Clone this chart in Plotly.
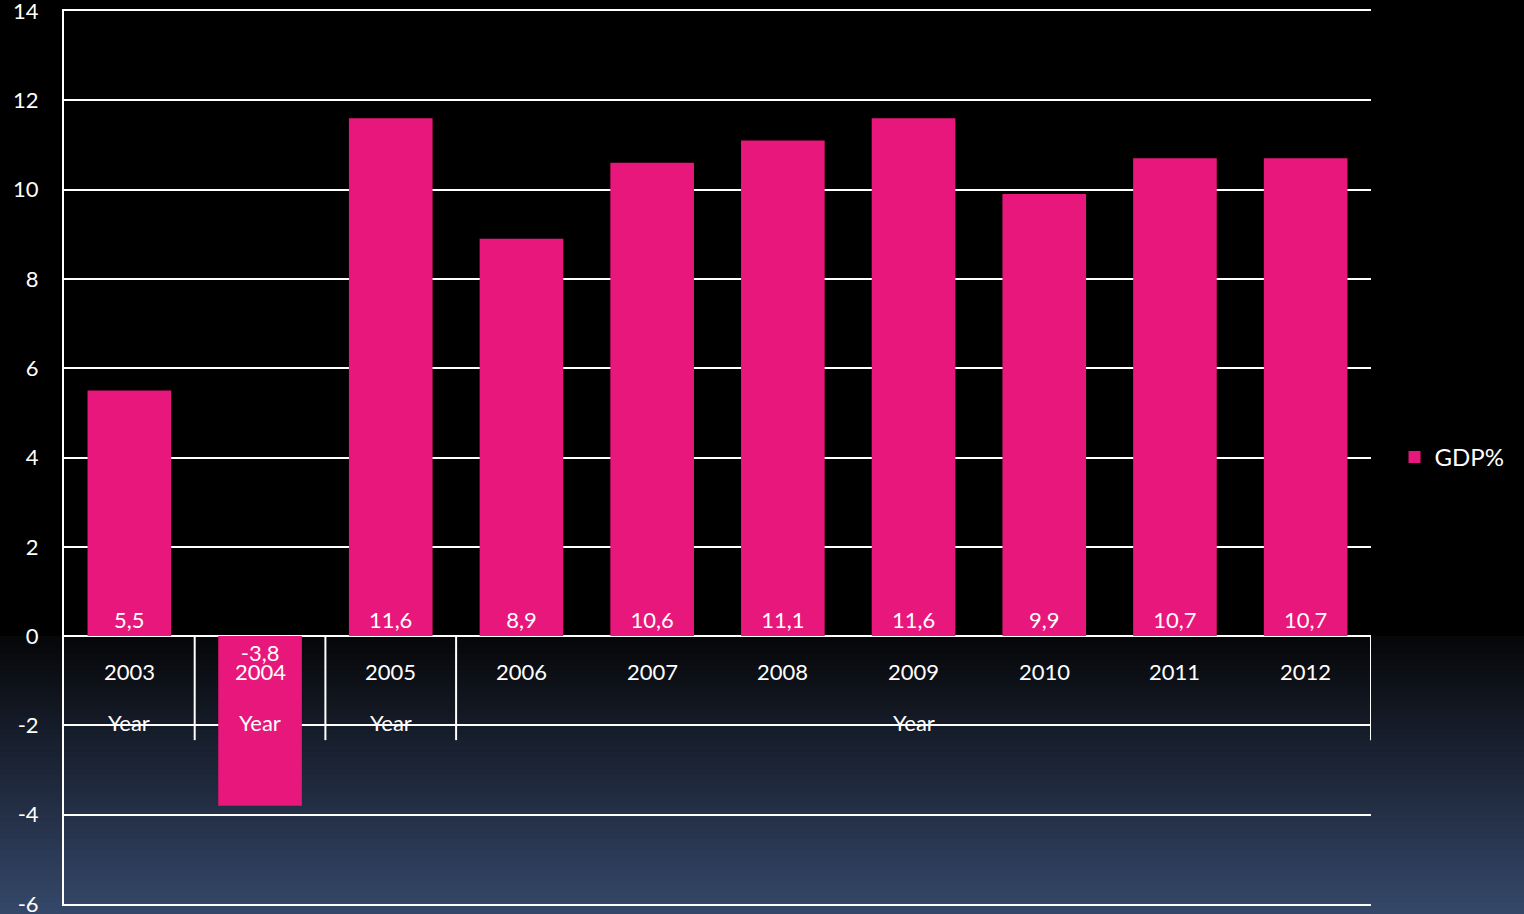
import plotly.graph_objects as go

years = ["2003", "2004", "2005", "2006", "2007", "2008", "2009", "2010", "2011", "2012"]
gdp = [5.5, -3.8, 11.6, 8.9, 10.6, 11.1, 11.6, 9.9, 10.7, 10.7]
group_labels = ["Year", "Year", "Year", "Year"]
group_sizes = [1, 1, 1, 7]
y_ticks = [-6, -4, -2, 0, 2, 4, 6, 8, 10, 12, 14]
y_tick_labels = ["-6", "-4", "-2", "0", "2", "4", "6", "8", "10", "12", "14"]

FONT = "Lato"
PINK = "#E8177B"

W, H = 1524, 914
ML, MR, MT, MB = 64, 153, 11, 10
pw = W - ML - MR
ph = H - MT - MB

fig = go.Figure()
fig.add_trace(go.Bar(
    x=years, y=gdp, name="GDP%",
    marker=dict(color=PINK, line=dict(width=0)),
    text=[f"{v:.1f}".replace(".", ",") for v in gdp],
    textposition="inside", insidetextanchor="start", textangle=0,
    textfont=dict(color="white", size=22, family=FONT),
    constraintext="none",
))

shapes = []
# background gradient (black above zero line, fading to slate blue at bottom)
top_px, bot_px = 636, H
n = 48
c0 = (5, 6, 8)
c1 = (54, 72, 106)
for i in range(n):
    p0 = top_px + (bot_px - top_px) * i / n
    p1 = top_px + (bot_px - top_px) * (i + 1) / n + 1
    t = (i + 0.5) / n
    col = tuple(int(round(c0[k] + (c1[k] - c0[k]) * t)) for k in range(3))
    shapes.append(dict(
        type="rect", xref="paper", yref="paper", layer="below",
        x0=-ML / pw, x1=(W - ML) / pw,
        y0=(H - MB - p1) / ph, y1=(H - MB - p0) / ph,
        fillcolor="rgb(%d,%d,%d)" % col, line=dict(width=0),
    ))

# group dividers of the category table
bounds = [-0.5]
for s in group_sizes:
    bounds.append(bounds[-1] + s)
for b in bounds[1:]:
    shapes.append(dict(type="line", xref="x", yref="y", x0=b, x1=b, y0=0, y1=-2.33,
                       line=dict(color="white", width=2), layer="above"))

annotations = []
for i, yv in enumerate(years):
    annotations.append(dict(x=i, y=-0.8, xref="x", yref="y", text=yv, showarrow=False,
                            font=dict(color="white", size=22, family=FONT)))
start = 0
for lab, s in zip(group_labels, group_sizes):
    c = start + (s - 1) / 2
    annotations.append(dict(x=c, y=-1.93, xref="x", yref="y", text=lab, showarrow=False,
                            font=dict(color="white", size=22, family=FONT)))
    start += s

fig.update_layout(
    width=W, height=H,
    margin=dict(l=ML, r=MR, t=MT, b=MB, autoexpand=False),
    paper_bgcolor="black", plot_bgcolor="rgba(0,0,0,0)",
    font=dict(family=FONT, color="white", size=22),
    bargap=0.36,
    showlegend=True,
    legend=dict(x=1.018, xanchor="left", y=0.5, yanchor="middle",
                font=dict(size=24, color="white", family=FONT),
                bgcolor="rgba(0,0,0,0)"),
    shapes=shapes, annotations=annotations,
    xaxis=dict(range=[-0.5, 9.5], showticklabels=False, showgrid=False,
               showline=True, linecolor="white", linewidth=2, mirror=True,
               ticks="", zeroline=False, automargin=False),
    yaxis=dict(range=[-6, 14], tickvals=y_ticks, ticktext=y_tick_labels,
               showgrid=True, gridcolor="white", gridwidth=2,
               zeroline=True, zerolinecolor="white", zerolinewidth=2,
               showline=True, linecolor="white", linewidth=2,
               ticks="", ticklabelstandoff=19, ticklabeloverflow="allow",
               automargin=False,
               tickfont=dict(size=22, color="white", family=FONT)),
)

fig.write_html("out.html", config={"displayModeBar": False},
               post_script="document.body.style.margin='0';document.body.style.overflow='hidden';")
